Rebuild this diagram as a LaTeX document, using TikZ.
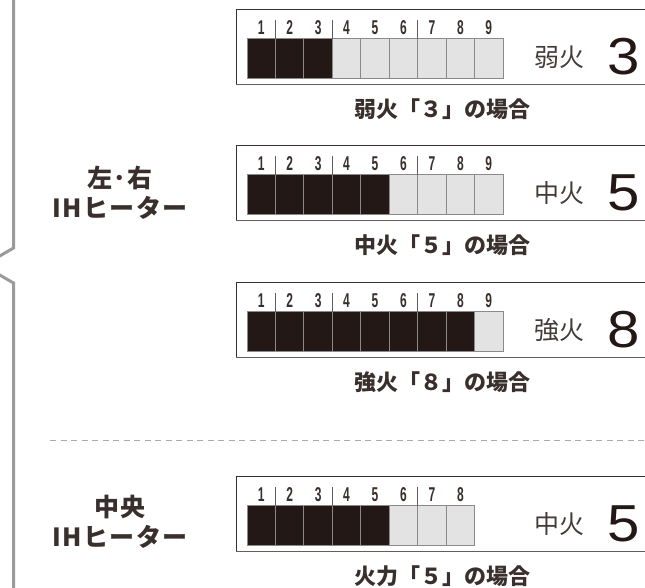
\documentclass[tikz,border=0pt]{standalone}
\usepackage{fontspec}
\setmainfont{Noto Sans CJK JP}
\newfontfamily\numfont[FakeStretch=0.6]{Liberation Sans}
\newfontfamily\bignumfont[FakeStretch=1.12]{Liberation Sans}
\newfontfamily\sidefont[LetterSpace=6]{Noto Sans CJK JP}
\usetikzlibrary{positioning}
\definecolor{ink}{HTML}{231815}
\definecolor{cellgray}{HTML}{E3E3E3}
\definecolor{cellline}{HTML}{8A8A8A}
\definecolor{bracegray}{HTML}{9B9B9B}
\definecolor{dashgray}{HTML}{ABABAB}

% one power display: name, top, cells, level, word, value, caption
\newcommand{\powerbar}[7]{%
  \draw[panel] (236,#2) rectangle (700,{#2+75.5});
  \draw[panelshade] (236,{#2+75.5}) -- (700,{#2+75.5});
  \foreach \i in {1,...,#3} {
    \pgfmathsetmacro\xa{247+28.45*(\i-1)}
    \pgfmathsetmacro\xb{247+28.45*\i}
    \ifnum\i>#4\relax
      \draw[celloff] (\xa,{#2+29.5}) rectangle (\xb,{#2+69.5});
    \else
      \draw[cellon] (\xa,{#2+29.5}) rectangle (\xb,{#2+69.5});
    \fi
    \node[digit] at ({(\xa+\xb)/2},{#2+19}) {\i};
  }
  \foreach \k in {1,3,6}
    \draw[tickline] ({247+28.45*\k},{#2+11}) -- ({247+28.45*\k},{#2+29.5});
  \node[bignum] (#1val) at (624,{#2+48}) {#6};
  \node[heatword, left=23pt of #1val] (#1word) {#5};
  \node[caption] (#1cap) at (442,{#2+100}) {#7};
}

\begin{document}
\begin{tikzpicture}[
    x=1pt, y=-1pt,
    panel/.style={draw=ink!90, line width=0.9pt},
    panelshade/.style={draw=ink!70, line width=1.6pt},
    cellon/.style={fill=ink, draw=cellline, line width=0.9pt},
    celloff/.style={fill=cellgray, draw=cellline, line width=0.9pt},
    tickline/.style={draw=ink!70, line width=0.8pt},
    digit/.style={font=\numfont\bfseries\fontsize{20}{20}\selectfont, text=ink!90, inner sep=0pt},
    bignum/.style={font=\bignumfont\fontsize{52}{52}\selectfont, text=ink, inner sep=0pt},
    heatword/.style={font=\fontsize{25}{25}\selectfont, text=ink!85, inner sep=0pt},
    caption/.style={font=\bfseries\fontsize{22}{26}\selectfont, text=ink!90, inner sep=0pt},
    side/.style={font=\sidefont\bfseries\fontsize{25}{29.5}\selectfont, text=ink!90, align=center, inner sep=0pt},
    bracket/.style={draw=bracegray, line width=3pt},
    divider/.style={draw=dashgray, line width=1pt, dash pattern=on 6pt off 4.5pt}
]
    \useasboundingbox (0,0) rectangle (645,587);
    \clip (0,0) rectangle (645,587);

    % left bracket
    \draw[bracket] (13.5,-5) -- (13.5,248) -- (-2,257);
    \draw[bracket] (-2,274) -- (13.5,283) -- (13.5,600);

    \node[side] (lrheater) at (120,193) {左･右\\IHヒーター};
    \node[side] (midheater) at (120,522) {中央\\IHヒーター};

    \powerbar{weak}{9}{9}{3}{弱火}{3}{弱火「３」の場合}
    \powerbar{medium}{145}{9}{5}{中火}{5}{中火「５」の場合}
    \powerbar{strong}{282}{9}{8}{強火}{8}{強火「８」の場合}

    \draw[divider] (50,440) -- (660,440);

    \powerbar{center}{476}{8}{5}{中火}{5}{火力「５」の場合}
\end{tikzpicture}
\end{document}
